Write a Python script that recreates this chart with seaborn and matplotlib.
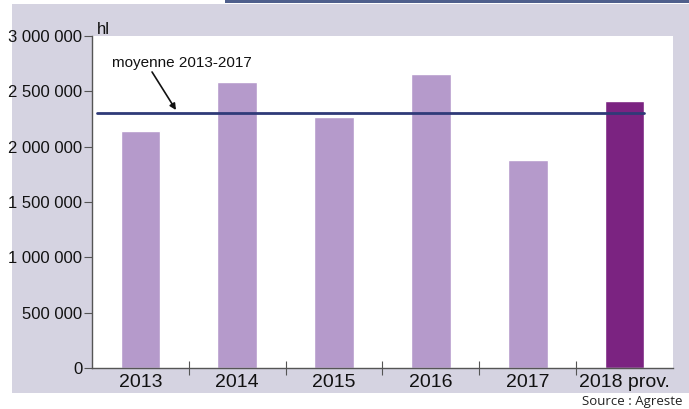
import matplotlib
matplotlib.use("Agg")
import matplotlib.pyplot as plt
import seaborn as sns
from matplotlib.patches import FancyBboxPatch, Rectangle
from matplotlib.transforms import IdentityTransform
from matplotlib.ticker import FuncFormatter, FixedLocator

# Données (hl)
annees = ['2013', '2014', '2015', '2016', '2017', '2018 prov.']
volumes = [2140000, 2585000, 2268000, 2657000, 1880000, 2413000]
couleurs = ['#B59ACB', '#B59ACB', '#B59ACB', '#B59ACB', '#B59ACB', '#7B2381']
moyenne = 2300000

sns.set_style('white')
plt.rcParams['font.family'] = ['Liberation Sans', 'DejaVu Sans']

W, H = 689, 409
fig = plt.figure(figsize=(W / 100, H / 100), dpi=100)

# Panneau lavande avec coin arrondi en haut à droite
panneau = FancyBboxPatch((12, H - 393), 760, 389, boxstyle='round,pad=0,rounding_size=22',
                         transform=IdentityTransform(), facecolor='#D5D3E1', edgecolor='none', zorder=-10)
fig.patches.append(panneau)
fig.patches.append(Rectangle((12, H - 393), 300, 389, transform=IdentityTransform(),
                             facecolor='#D5D3E1', edgecolor='none', zorder=-10))
fig.patches.append(Rectangle((225, H - 3), 470, 3, transform=IdentityTransform(),
                             facecolor='#4F5F8C', edgecolor='none', zorder=-10))

ax = fig.add_axes([92 / W, (H - 368) / H, (673 - 92) / W, (368 - 36) / H])
ax.set_facecolor('white')

sns.barplot(x=annees, y=volumes, hue=annees, palette=couleurs, legend=False,
            width=0.41, saturation=1, ax=ax, zorder=2)

ax.set_ylim(0, 3000000)
ax.set_xlim(-0.5, 5.5)

# Ligne de la moyenne
ax.plot([-0.45, 5.2], [moyenne, moyenne], color='#2F3A78', lw=2, zorder=3)
ax.text(-0.293, 2756000, 'moyenne 2013-2017', fontsize=11, va='center', ha='left', color='#111111')
ax.annotate('', xy=(0.367, 2331000), xytext=(0.12, 2675000),
            arrowprops=dict(arrowstyle='-|>', color='#111111', lw=1.2, mutation_scale=9,
                            shrinkA=0, shrinkB=0))

# Axes
sns.despine(ax=ax, top=True, right=True)
for s in ['left', 'bottom']:
    ax.spines[s].set_color('#555555')
    ax.spines[s].set_linewidth(1)

ax.yaxis.set_major_locator(FixedLocator([0, 500000, 1000000, 1500000, 2000000, 2500000, 3000000]))
ax.yaxis.set_major_formatter(FuncFormatter(lambda v, p: f'{int(v):,}'.replace(',', ' ')))
ax.tick_params(axis='y', direction='out', length=6, color='#555555', labelsize=12,
               left=True, pad=1, labelcolor='#111111')

ax.set_xticks([0.5, 1.5, 2.5, 3.5, 4.5])
ax.set_xticklabels([])
ax.set_xticks(range(len(annees)), minor=True)
ax.set_xticklabels(annees, minor=True)
ax.tick_params(axis='x', which='major', direction='inout', length=10, color='#555555', bottom=True)
ax.tick_params(axis='x', which='minor', length=0, labelsize=14, pad=4, labelcolor='#111111')
ax.set_xlabel('')
ax.set_ylabel('')

fig.text(97 / W, (H - 34) / H, 'hl', fontsize=12, ha='left', va='baseline', color='#111111')
fig.text(683 / W, (H - 401) / H, 'Source : Agreste', fontsize=9.5, ha='right', va='center',
         family=['Open Sans', 'DejaVu Sans'], color='#222222')

fig.savefig('out.png', dpi=100)
